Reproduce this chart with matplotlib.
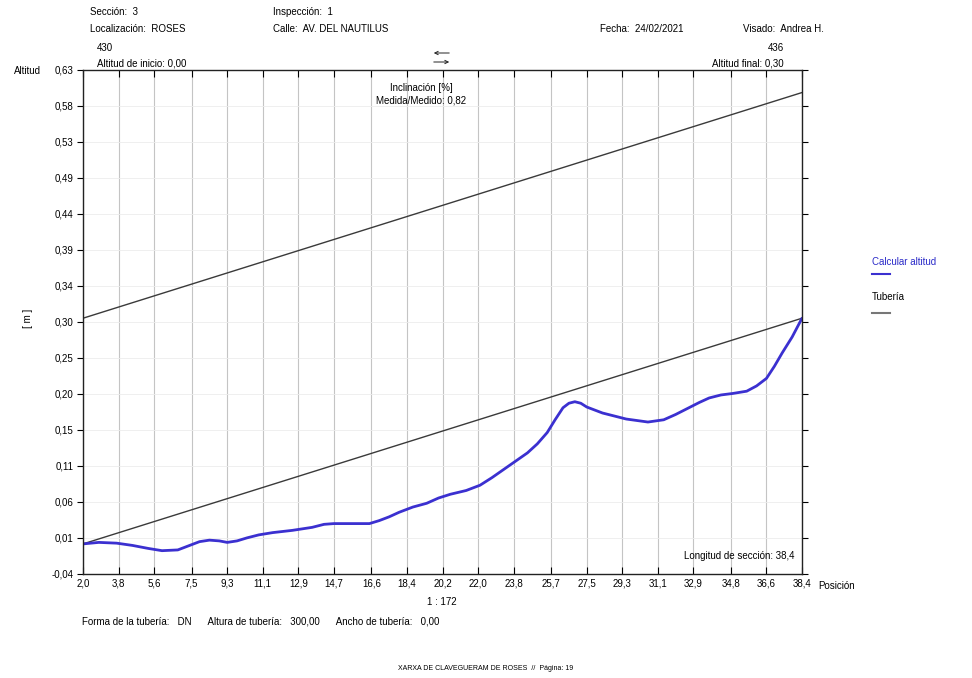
import matplotlib.pyplot as plt
import numpy as np

# x axis: position along the section (m)
pos_ticks = [2.0, 3.8, 5.6, 7.5, 9.3, 11.1, 12.9, 14.7, 16.6, 18.4, 20.2,
             22.0, 23.8, 25.7, 27.5, 29.3, 31.1, 32.9, 34.8, 36.6, 38.4]
pos_labels = ["2,0", "3,8", "5,6", "7,5", "9,3", "11,1", "12,9", "14,7", "16,6",
              "18,4", "20,2", "22,0", "23,8", "25,7", "27,5", "29,3", "31,1",
              "32,9", "34,8", "36,6", "38,4"]

# y axis: altitude labels as printed (15 evenly spaced ticks)
alt_labels = ["-0,04", "0,01", "0,06", "0,11", "0,15", "0,20", "0,25", "0,30",
              "0,34", "0,39", "0,44", "0,49", "0,53", "0,58", "0,63"]
y_min, y_max = -0.04, 0.63

# pipe (Tubería): invert and crown
pipe_x = [2.0, 38.4]
pipe_bottom = [0.0, 0.30]
pipe_top = [0.30, 0.60]

# measured altitude (Calcular altitud)
alt_x = [2.0, 2.8, 3.7, 4.5, 5.3, 6.0, 6.8, 7.4, 7.9, 8.4, 8.9, 9.3, 9.8, 10.3,
         10.9, 11.6, 12.6, 13.6, 14.2, 14.7, 15.5, 16.5, 17.0, 17.5, 18.0, 18.7,
         19.4, 20.0, 20.6, 21.4, 22.1, 22.7, 23.3, 23.9, 24.5, 25.0, 25.5, 25.9,
         26.3, 26.6, 26.9, 27.2, 27.5, 28.3, 29.5, 30.6, 31.4, 32.0, 32.6, 33.2,
         33.7, 34.3, 34.9, 35.6, 36.1, 36.6, 37.0, 37.4, 37.9, 38.4]
alt_y = [0.000, 0.002, 0.001, -0.002, -0.006, -0.009, -0.008, -0.002, 0.003,
         0.005, 0.004, 0.002, 0.004, 0.008, 0.012, 0.015, 0.018, 0.022, 0.026,
         0.027, 0.027, 0.027, 0.031, 0.036, 0.042, 0.049, 0.054, 0.061, 0.066,
         0.071, 0.078, 0.088, 0.099, 0.110, 0.121, 0.133, 0.148, 0.165, 0.181,
         0.187, 0.189, 0.187, 0.182, 0.174, 0.166, 0.162, 0.165, 0.172, 0.180,
         0.188, 0.194, 0.198, 0.200, 0.203, 0.210, 0.220, 0.236, 0.254, 0.275,
         0.300]

plt.rcParams['font.family'] = ['Liberation Sans', 'DejaVu Sans']
fs = 7

fig = plt.figure(figsize=(9.72, 6.78), dpi=100)
ax = fig.add_axes([0.0854, 0.1534, 0.7397, 0.7434])

ax.set_xlim(pos_ticks[0], pos_ticks[-1])
ax.set_ylim(y_min, y_max)
yt = np.linspace(y_min, y_max, len(alt_labels))
ax.set_xticks(pos_ticks)
ax.set_xticklabels(pos_labels, fontsize=fs)
ax.set_yticks(yt)
ax.set_yticklabels(alt_labels, fontsize=fs)
ax.tick_params(direction='in', length=5, width=0.8, top=True, right=True,
               labeltop=False, labelright=False, pad=3)
ax.tick_params(axis='y', direction='out', length=4)

ax.grid(axis='x', color='#c4c4c4', lw=0.8)
ax.grid(axis='y', color='#ececec', lw=0.6)
for s in ax.spines.values():
    s.set_linewidth(1.0)
    s.set_color('#222222')

ax.plot(pipe_x, pipe_top, color='#3a3a3a', lw=1.0)
ax.plot(pipe_x, pipe_bottom, color='#3a3a3a', lw=1.0)
ax.plot(alt_x, alt_y, color='#3b30d0', lw=2.0, solid_capstyle='round',
        solid_joinstyle='round')

ax.text(0.99, 0.035, "Longitud de sección: 38,4", transform=ax.transAxes,
        ha='right', va='center', fontsize=fs)
ax.text(0.47, 0.965, "Inclinación [%]", transform=ax.transAxes,
        ha='center', va='center', fontsize=fs)
ax.text(0.47, 0.939, "Medida/Medido: 0,82", transform=ax.transAxes,
        ha='center', va='center', fontsize=fs)


def ft(x, y, s, **kw):
    fig.text(x / 972, 1 - y / 678, s, fontsize=kw.pop('fontsize', fs),
             va='center', **kw)


# header
ft(90, 12, "Sección:  3")
ft(90, 29, "Localización:  ROSES")
ft(273, 12, "Inspección:  1")
ft(273, 29, "Calle:  AV. DEL NAUTILUS")
ft(600, 29, "Fecha:  24/02/2021")
ft(743, 29, "Visado:  Andrea H.")
ft(97, 48, "430")
ft(97, 64, "Altitud de inicio: 0,00")
ft(784, 48, "436", ha='right')
ft(784, 64, "Altitud final: 0,30", ha='right')
ft(14, 71, "Altitud")
ft(28, 318, "[ m ]", rotation=90, ha='center')

# direction arrows (upstream / downstream)
for yy, style in [(53, '<-'), (62, '->')]:
    ax.annotate('', xy=(452 / 972, 1 - yy / 678), xytext=(431 / 972, 1 - yy / 678),
                xycoords='figure fraction', textcoords='figure fraction',
                arrowprops=dict(arrowstyle=style, lw=0.7, color='#222222',
                                mutation_scale=6))

# bottom
ft(818, 586, "Posición")
ft(442, 602, "1 : 172", ha='center')
ft(82, 622, "Forma de la tubería:   DN      Altura de tubería:   300,00      "
            "Ancho de tubería:   0,00")
ft(486, 668, "XARXA DE CLAVEGUERAM DE ROSES  //  Página: 19", ha='center',
   fontsize=5)

# legend
ft(872, 262, "Calcular altitud", color='#2a2ac8')
fig.add_artist(plt.Line2D([872 / 972, 890 / 972], [1 - 274 / 678, 1 - 274 / 678],
                          color='#3b30d0', lw=1.5))
ft(872, 297, "Tubería")
fig.add_artist(plt.Line2D([872 / 972, 890 / 972], [1 - 313 / 678, 1 - 313 / 678],
                          color='#777777', lw=1.5))

fig.savefig('out.png', dpi=100, facecolor='white')
